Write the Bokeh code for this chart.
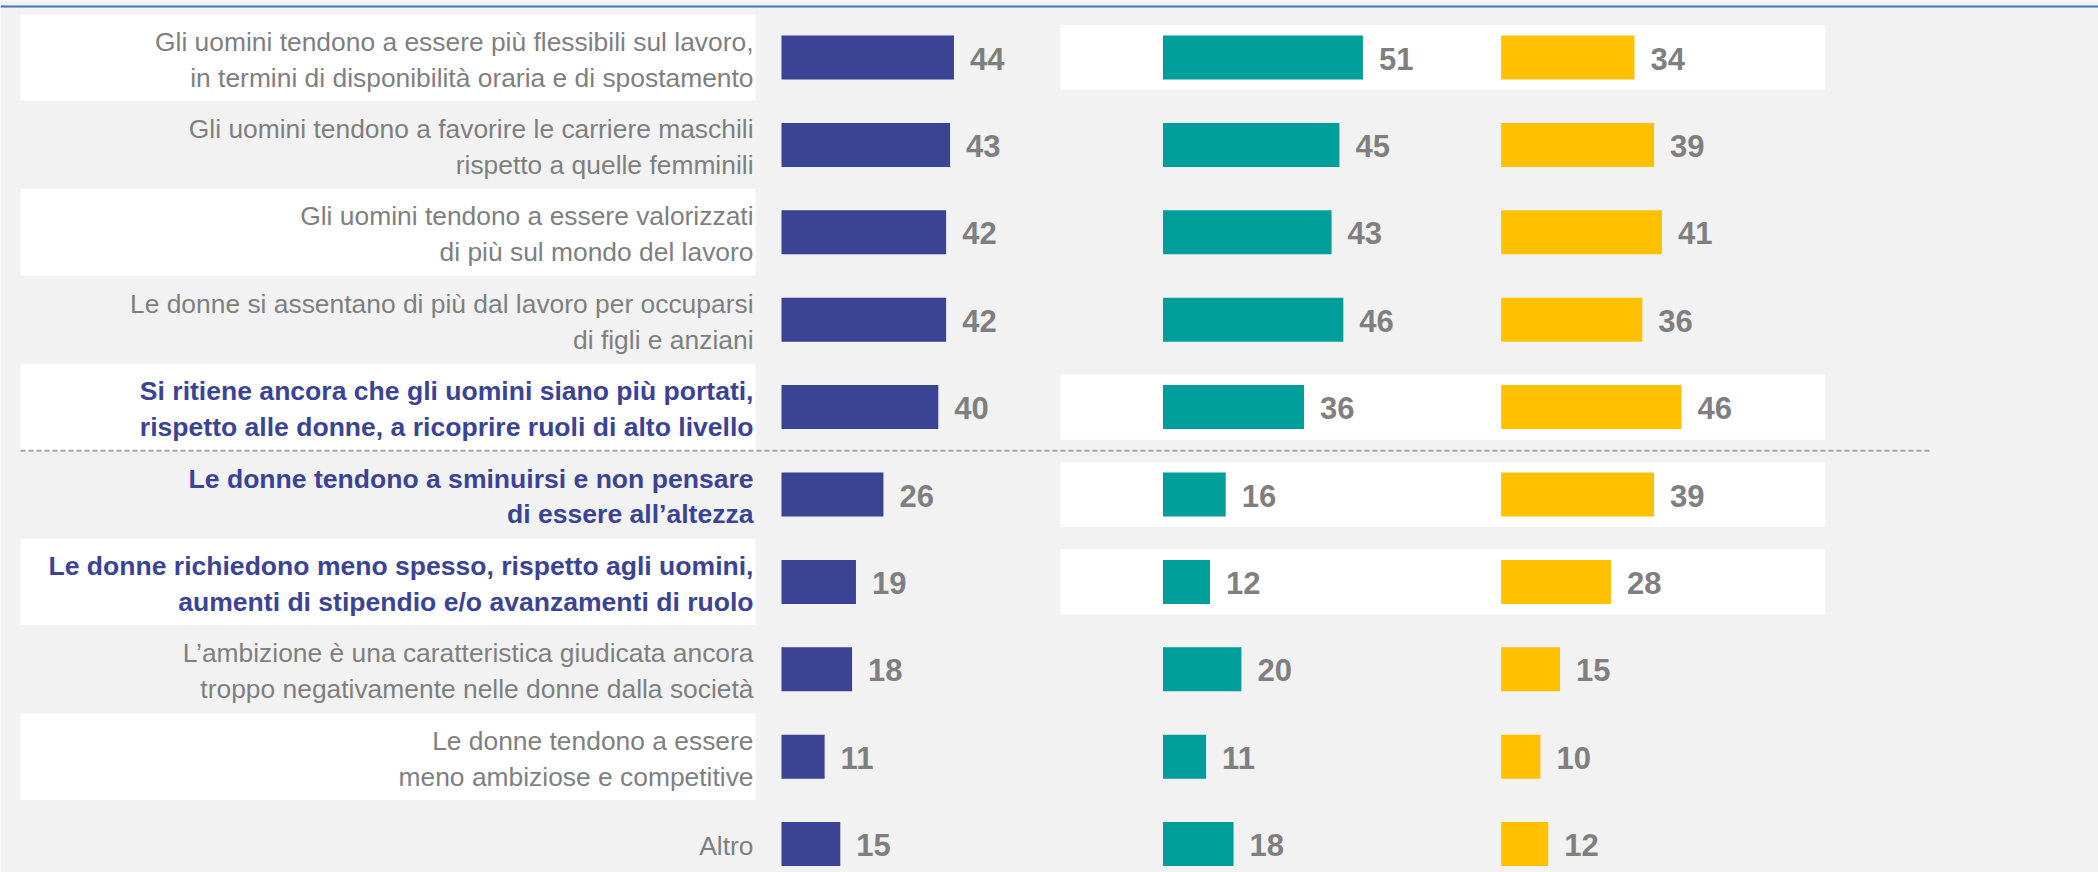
from bokeh.plotting import figure
from bokeh.models import Range1d, ColumnDataSource, Span
from bokeh.embed import file_html
from bokeh.resources import INLINE
from bokeh.core.properties import value

# ---------------- data ----------------
labels = [
    "Gli uomini tendono a essere più flessibili sul lavoro,\nin termini di disponibilità oraria e di spostamento",
    "Gli uomini tendono a favorire le carriere maschili\nrispetto a quelle femminili",
    "Gli uomini tendono a essere valorizzati\ndi più sul mondo del lavoro",
    "Le donne si assentano di più dal lavoro per occuparsi\ndi figli e anziani",
    "Si ritiene ancora che gli uomini siano più portati,\nrispetto alle donne, a ricoprire ruoli di alto livello",
    "Le donne tendono a sminuirsi e non pensare\ndi essere all’altezza",
    "Le donne richiedono meno spesso, rispetto agli uomini,\naumenti di stipendio e/o avanzamenti di ruolo",
    "L’ambizione è una caratteristica giudicata ancora\ntroppo negativamente nelle donne dalla società",
    "Le donne tendono a essere\nmeno ambiziose e competitive",
    "Altro",
]
highlighted = [False, False, False, False, True, True, True, False, False, False]
blue_values = [44, 43, 42, 42, 40, 26, 19, 18, 11, 15]
teal_values = [51, 45, 43, 46, 36, 16, 12, 20, 11, 18]
yellow_values = [34, 39, 41, 36, 46, 39, 28, 15, 10, 12]
label_band_rows = [0, 2, 4, 6, 8]
middle_band_rows = [0, 4, 5, 6]
separator_after_row = 4

# ---------------- styles / layout ----------------
W, H = 2098, 872
ROW0_PX, PITCH_PX = 57.0, 87.4
PX_PER_UNIT = 3.92
ORIGINS = {"blue": 781.0, "teal": 1162.5, "yellow": 1500.7}
COLORS = {"blue": "#3B4394", "teal": "#009E9A", "yellow": "#FFC000"}
BG = "#F2F2F2"
GREY_TXT = "#7F7F7F"
NAVY_TXT = "#3B4395"
FONT = "Liberation Sans"

rows = list(range(len(labels)))

y_top = -ROW0_PX / PITCH_PX
y_bot = (H - ROW0_PX) / PITCH_PX

p = figure(width=W, height=H, output_backend="svg", toolbar_location=None,
           x_range=Range1d(0, W), y_range=Range1d(y_bot, y_top),
           x_axis_location=None, y_axis_location=None,
           min_border=0, background_fill_color=BG, border_fill_color=BG,
           outline_line_color=None)
p.grid.visible = False

for name, origin in ORIGINS.items():
    p.extra_x_ranges[name] = Range1d(-origin / PX_PER_UNIT, (W - origin) / PX_PER_UNIT)

# white bands behind labels
p.hbar(y=label_band_rows, left=20, right=755, height=0.99,
       fill_color="white", line_color=None)
# white bands behind the teal / yellow columns
p.hbar(y=middle_band_rows, left=1060, right=1825, height=0.745,
       fill_color="white", line_color=None)

# top blue rule
p.add_layout(Span(location=y_top + 6 / PITCH_PX, dimension="width",
                  line_color="#4472C4", line_width=2))

# dashed separator
p.segment(x0=[20], x1=[1930], y0=[separator_after_row + 0.5], y1=[separator_after_row + 0.5],
          line_color="#A6A6A6", line_width=2, line_dash="5 3")

# category labels (normal and highlighted)
normal_src = ColumnDataSource(dict(
    y=[r for r, h in zip(rows, highlighted) if not h],
    text=[t for t, h in zip(labels, highlighted) if not h],
))
bold_src = ColumnDataSource(dict(
    y=[r for r, h in zip(rows, highlighted) if h],
    text=[t for t, h in zip(labels, highlighted) if h],
))
p.text(x=753, y="y", text="text", source=normal_src, text_align="right",
       text_baseline="middle", text_color=GREY_TXT, y_offset=2,
       text_font=value(FONT), text_font_size="26.4px", text_line_height=1.2)
p.text(x=753, y="y", text="text", source=bold_src, text_align="right",
       text_baseline="middle", text_color=NAVY_TXT, text_font_style="bold", y_offset=2,
       text_font=value(FONT), text_font_size="26.55px", text_line_height=1.19)

# bars and value labels
for name, vals in (("blue", blue_values), ("teal", teal_values), ("yellow", yellow_values)):
    p.hbar(y=rows, left=0, right=vals, height=0.503, fill_color=COLORS[name],
           line_color=None, x_range_name=name)
    p.text(x=vals, y=rows, text=[str(v) for v in vals], x_range_name=name,
           x_offset=16, y_offset=1, text_align="left", text_baseline="middle",
           text_color=GREY_TXT, text_font_style="bold",
           text_font=value(FONT), text_font_size="31px")

open("out.html", "w").write(file_html(p, INLINE))
